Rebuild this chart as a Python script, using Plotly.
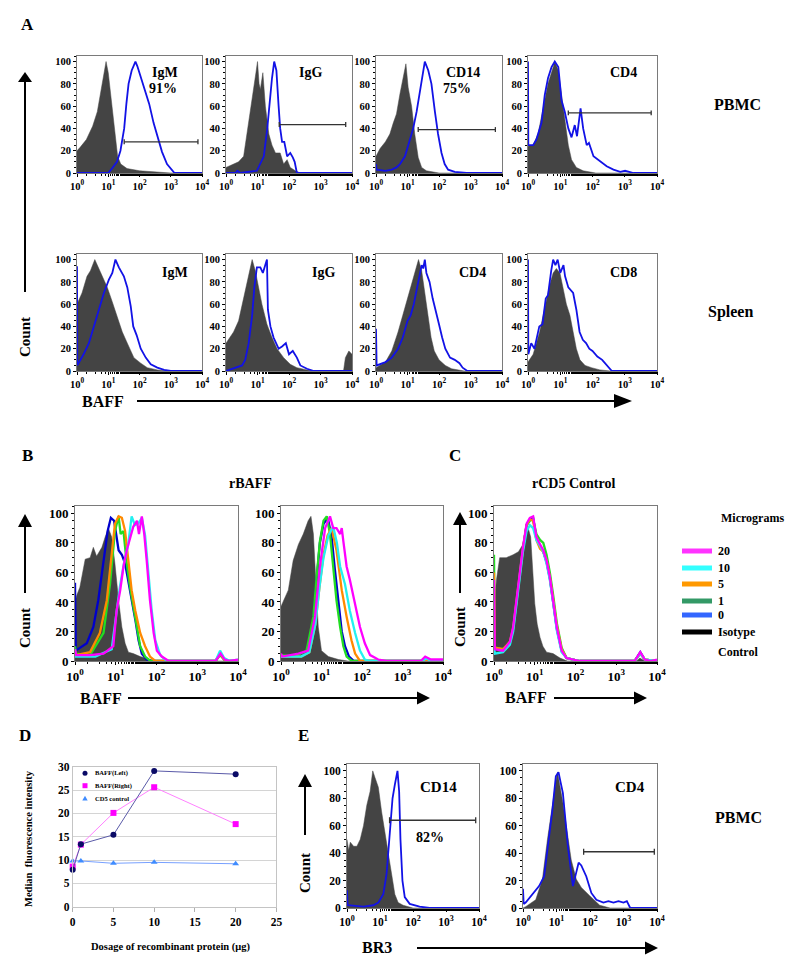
import plotly.graph_objects as go

W, H = 800, 966
SERIF = "Liberation Serif"

# ---------------- data ----------------
DECADE_TICKS = [1, 10, 100, 1000, 10000]
DECADE_TICK_TEXT = ["10<sup>0</sup>", "10<sup>1</sup>", "10<sup>2</sup>", "10<sup>3</sup>", "10<sup>4</sup>"]
COUNT_TICKS = [0, 20, 40, 60, 80, 100]

# Histograms: [log10(fluorescence), % of max]
A_PBMC_IGM_ISO = [(0,20),(0.1,23),(0.3,30),(0.5,42),(0.65,55),(0.75,70),(0.85,88),(0.93,100),(1.0,90),(1.1,65),(1.2,38),(1.3,15),(1.4,8),(1.6,4),(2.0,2),(2.5,1),(3,0),(4,0)]
A_PBMC_IGM_BAFF = [(0,0),(1.0,0),(1.12,4),(1.28,10),(1.39,20),(1.45,30),(1.51,40),(1.58,62),(1.65,80),(1.75,92),(1.82,97),(1.87,100),(1.93,96),(2.0,90),(2.08,82),(2.2,72),(2.31,62),(2.45,45),(2.56,35),(2.72,19),(2.88,8),(3.04,2),(3.12,0),(4,0)]
A_PBMC_IGG_ISO = [(0,5),(0.24,8),(0.4,10),(0.56,15),(0.67,35),(0.77,55),(0.88,75),(0.95,90),(1.0,100),(1.05,80),(1.09,75),(1.17,90),(1.25,60),(1.36,35),(1.46,25),(1.57,18),(1.72,18),(1.83,8),(1.94,12),(2.04,5),(2.2,2),(2.36,0),(4,0)]
A_PBMC_IGG_BAFF = [(0,0),(0.3,0),(0.36,2),(0.45,0),(0.98,2),(1.2,15),(1.31,40),(1.39,65),(1.46,85),(1.53,100),(1.6,92),(1.67,60),(1.72,40),(1.78,28),(1.85,28),(1.94,15),(2.04,18),(2.12,14),(2.18,10),(2.25,0),(4,0)]
A_PBMC_CD14_ISO = [(0,15),(0.13,22),(0.3,28),(0.44,35),(0.55,45),(0.65,53),(0.76,71),(0.87,86),(0.95,98),(1.02,77),(1.13,60),(1.23,35),(1.34,14),(1.45,5),(1.6,2),(2.0,0),(4,0)]
A_PBMC_CD14_BAFF = [(0,8),(0.02,3),(0.3,2),(0.5,3),(0.65,5),(0.76,8),(0.92,15),(1.08,30),(1.18,40),(1.29,55),(1.37,70),(1.45,85),(1.55,100),(1.66,92),(1.76,80),(1.87,55),(1.97,35),(2.08,18),(2.18,8),(2.29,3),(2.5,1),(2.87,0),(4,0)]
A_PBMC_CD4_ISO = [(0,24),(0.16,25),(0.31,35),(0.47,60),(0.62,80),(0.78,95),(0.83,100),(0.94,92),(1.04,70),(1.14,45),(1.25,25),(1.35,12),(1.5,5),(1.71,2),(2.1,0),(4,0)]
A_PBMC_CD4_BAFF = [(0,100),(0.01,25),(0.16,25),(0.26,30),(0.42,45),(0.52,70),(0.62,85),(0.73,95),(0.83,100),(0.94,95),(1.04,65),(1.14,55),(1.25,40),(1.35,32),(1.45,43),(1.52,33),(1.63,58),(1.71,40),(1.82,25),(1.89,27),(2.03,15),(2.24,10),(2.44,6),(2.65,3),(2.86,1),(3.01,2),(3.27,0),(4,0)]
A_SPL_IGM_ISO = [(0,60),(0.16,70),(0.32,85),(0.43,90),(0.57,100),(0.7,92),(0.8,85),(0.97,75),(1.13,62),(1.29,48),(1.45,35),(1.61,25),(1.82,12),(2.04,7),(2.25,3),(2.57,1),(2.9,0),(4,0)]
A_SPL_IGM_BAFF = [(0,94),(0.01,5),(0.21,15),(0.38,25),(0.54,40),(0.7,55),(0.86,70),(1.02,82),(1.13,88),(1.23,100),(1.34,93),(1.5,85),(1.61,75),(1.72,58),(1.8,40),(1.91,32),(2.04,20),(2.2,12),(2.36,6),(2.57,3),(2.79,1),(3.0,0),(4,0)]
A_SPL_IGG_ISO = [(0,25),(0.24,35),(0.4,45),(0.56,65),(0.72,85),(0.83,100),(0.93,90),(1.04,75),(1.14,60),(1.3,42),(1.46,30),(1.62,20),(1.83,12),(2.04,6),(2.25,3),(2.57,1),(2.89,0),(3.73,0),(3.79,12),(3.9,18),(4.0,15)]
A_SPL_IGG_BAFF = [(0,0),(0.35,3),(0.51,5),(0.61,10),(0.72,25),(0.83,50),(0.9,75),(0.98,93),(1.09,93),(1.17,88),(1.25,96),(1.3,100),(1.33,55),(1.41,40),(1.51,30),(1.67,20),(1.78,22),(1.9,25),(2.0,15),(2.12,18),(2.25,12),(2.36,5),(2.57,2),(2.79,0),(4,0)]
A_SPL_CD4_ISO = [(0,3),(0.3,8),(0.5,18),(0.7,35),(0.85,50),(1.0,65),(1.1,75),(1.2,85),(1.3,95),(1.35,100),(1.45,90),(1.55,72),(1.65,50),(1.75,30),(1.85,18),(2.0,10),(2.2,5),(2.4,2),(2.6,1),(2.8,0),(4,0)]
A_SPL_CD4_BAFF = [(0,38),(0.02,5),(0.3,8),(0.5,12),(0.7,20),(0.85,30),(1.0,45),(1.1,50),(1.2,60),(1.3,75),(1.4,88),(1.45,95),(1.5,92),(1.55,100),(1.6,88),(1.7,80),(1.8,65),(1.9,52),(2.0,42),(2.1,30),(2.2,20),(2.35,12),(2.5,10),(2.65,7),(2.75,3),(2.9,0),(4,0)]
A_SPL_CD8_ISO = [(0,8),(0.05,10),(0.16,15),(0.26,25),(0.36,35),(0.47,50),(0.57,65),(0.68,78),(0.78,88),(0.88,92),(0.99,88),(1.09,75),(1.19,60),(1.3,50),(1.4,35),(1.5,20),(1.61,10),(1.77,5),(1.97,3),(2.23,1),(2.55,0),(4,0)]
A_SPL_CD8_BAFF = [(0,100),(0.01,15),(0.1,25),(0.2,20),(0.35,40),(0.45,42),(0.55,65),(0.62,68),(0.72,90),(0.78,100),(0.85,95),(0.92,100),(1.0,88),(1.1,95),(1.15,85),(1.25,75),(1.4,70),(1.5,55),(1.6,35),(1.7,28),(1.8,25),(1.9,20),(2.0,18),(2.15,13),(2.3,10),(2.45,5),(2.6,0),(4,0)]

B_LEFT_ISO = [(0,40),(0.05,45),(0.12,50),(0.25,69),(0.37,70),(0.45,77),(0.53,71),(0.66,77),(0.74,84),(0.82,90),(0.9,84),(0.98,66),(1.07,41),(1.15,23),(1.23,12),(1.31,6),(1.43,5),(1.6,3),(1.84,1),(2.0,0),(4,0)]
B_LEFT_0 = [(0,53),(0.02,7),(0.29,12),(0.45,23),(0.57,41),(0.7,66),(0.8,88),(0.88,97),(0.96,95),(1.07,75),(1.15,72),(1.23,66),(1.31,54),(1.39,43),(1.48,28),(1.56,14),(1.64,5),(1.76,1),(1.9,0),(3.45,0),(3.56,5),(3.66,1),(3.8,0),(4,0)]
B_LEFT_1 = [(0,10),(0.02,5),(0.37,4),(0.7,19),(0.86,52),(0.98,88),(1.07,98),(1.12,86),(1.19,88),(1.27,66),(1.35,50),(1.43,37),(1.52,21),(1.6,10),(1.72,3),(1.85,0),(3.45,0),(3.56,4),(3.66,1),(3.8,0),(4,0)]
B_LEFT_5 = [(0,5),(0.02,4),(0.37,6),(0.61,19),(0.78,41),(0.9,75),(0.98,93),(1.07,98),(1.15,97),(1.23,88),(1.31,66),(1.39,48),(1.48,34),(1.6,19),(1.72,10),(1.84,3),(1.97,0),(3.45,0),(3.56,5),(3.66,1),(3.8,0),(4,0)]
B_LEFT_10 = [(0,3),(0.5,3),(0.9,8),(1.0,30),(1.1,50),(1.2,66),(1.3,78),(1.39,98),(1.47,92),(1.55,93),(1.64,97),(1.72,85),(1.8,60),(1.88,35),(1.97,14),(2.09,4),(2.25,0),(3.45,0),(3.56,7),(3.66,2),(3.8,0),(4,1)]
B_LEFT_20 = [(0,8),(0.03,4),(0.37,4),(0.7,5),(0.94,10),(1.02,34),(1.11,48),(1.19,64),(1.27,75),(1.35,84),(1.43,91),(1.52,95),(1.57,86),(1.64,98),(1.7,86),(1.76,68),(1.84,41),(1.93,19),(2.01,7),(2.13,3),(2.3,0),(3.45,0),(3.57,5),(3.67,1),(3.8,0),(4,1)]
B_RIGHT_ISO = [(0,37),(0.18,48),(0.3,68),(0.43,79),(0.55,86),(0.67,95),(0.74,98),(0.8,86),(0.86,54),(0.92,23),(1.0,7),(1.17,3),(1.42,1),(1.65,0),(4,0)]
B_RIGHT_0 = [(0,3),(0.35,3),(0.63,6),(0.8,28),(0.88,55),(0.96,80),(1.05,93),(1.13,96),(1.17,95),(1.25,84),(1.33,62),(1.41,40),(1.5,20),(1.58,10),(1.68,3),(1.8,0),(4,0)]
B_RIGHT_1 = [(0,4),(0.35,3),(0.63,7),(0.8,30),(0.88,57),(0.96,81),(1.05,95),(1.13,98),(1.21,86),(1.29,64),(1.37,41),(1.46,23),(1.54,10),(1.62,3),(1.75,0),(4,0)]
B_RIGHT_5 = [(0,3),(0.5,3),(0.7,6),(0.85,25),(0.95,50),(1.05,72),(1.15,85),(1.25,90),(1.37,75),(1.5,48),(1.62,30),(1.74,14),(1.83,5),(1.95,0),(4,0)]
B_RIGHT_10 = [(0,3),(0.5,3),(0.7,6),(0.85,25),(0.95,50),(1.05,70),(1.17,85),(1.29,91),(1.38,80),(1.46,64),(1.58,52),(1.7,34),(1.83,19),(1.95,7),(2.07,1),(2.2,0),(3.5,0),(3.58,2),(3.7,0),(4,0)]
B_RIGHT_20 = [(0,5),(0.03,3),(0.43,5),(0.67,7),(0.84,30),(0.96,64),(1.09,90),(1.21,98),(1.29,90),(1.37,90),(1.46,86),(1.5,90),(1.54,81),(1.62,64),(1.7,55),(1.79,44),(1.87,34),(1.95,23),(2.07,12),(2.2,4),(2.4,1),(2.6,0),(3.45,0),(3.56,3),(3.7,1),(4,1)]

C_ISO = [(0,35),(0.06,55),(0.14,70),(0.3,70),(0.47,72),(0.6,74),(0.71,79),(0.78,85),(0.84,90),(0.9,84),(0.95,65),(1.0,39),(1.06,25),(1.13,16),(1.2,10),(1.29,6),(1.45,5),(1.62,2),(1.8,0),(3.5,0),(3.58,2),(3.7,0),(4,0)]
C_0 = [(0,8),(0.02,8),(0.22,7),(0.39,12),(0.47,22),(0.55,40),(0.63,58),(0.71,76),(0.8,92),(0.88,96),(0.96,97),(1.04,83),(1.13,78),(1.21,74),(1.29,67),(1.37,56),(1.45,40),(1.54,22),(1.66,7),(1.78,2),(2.1,0),(3.45,0),(3.59,6),(3.7,1),(4,0)]
C_1 = [(0,72),(0.02,9),(0.22,8),(0.39,12),(0.47,22),(0.55,40),(0.63,58),(0.71,76),(0.8,92),(0.88,95),(0.96,96),(1.04,86),(1.13,82),(1.21,80),(1.29,72),(1.37,60),(1.45,45),(1.54,26),(1.66,9),(1.78,2),(2.1,0),(3.45,0),(3.59,5),(3.7,1),(4,0)]
C_5 = [(0,60),(0.02,9),(0.22,8),(0.39,13),(0.47,22),(0.55,40),(0.63,58),(0.71,76),(0.8,92),(0.88,96),(0.96,95),(1.04,82),(1.13,76),(1.21,74),(1.29,68),(1.37,57),(1.45,42),(1.54,24),(1.66,8),(1.78,2),(2.1,0),(3.45,0),(3.59,5),(3.7,1),(4,0)]
C_10 = [(0,10),(0.02,5),(0.22,6),(0.39,11),(0.47,20),(0.55,38),(0.63,56),(0.71,74),(0.8,88),(0.88,92),(0.96,90),(1.04,82),(1.13,78),(1.21,74),(1.29,66),(1.37,55),(1.45,40),(1.54,21),(1.66,6),(1.78,2),(2.1,0),(3.45,0),(3.59,5),(3.7,1),(4,0)]
C_20 = [(0,55),(0.02,8),(0.22,7),(0.39,13),(0.47,23),(0.55,41),(0.63,59),(0.71,77),(0.8,93),(0.88,97),(0.96,98),(1.04,84),(1.13,79),(1.21,75),(1.29,68),(1.37,57),(1.45,41),(1.54,23),(1.66,7),(1.78,2),(2.1,0),(3.45,0),(3.59,6),(3.7,1),(3.85,0),(4,1)]

E_CD14_ISO = [(0,50),(0.05,42),(0.1,48),(0.2,45),(0.3,45),(0.4,50),(0.5,60),(0.6,75),(0.7,85),(0.78,100),(0.85,95),(0.95,88),(1.05,70),(1.15,55),(1.25,40),(1.35,22),(1.45,10),(1.55,4),(1.7,2),(2.0,0),(4,0)]
E_CD14_BR3 = [(0,13),(0.02,2),(0.5,1),(0.8,2),(0.95,4),(1.1,10),(1.2,25),(1.3,55),(1.38,80),(1.45,90),(1.53,100),(1.58,85),(1.62,50),(1.68,20),(1.75,8),(1.9,3),(2.2,1),(2.5,0),(4,0)]
E_CD4_ISO = [(0,0),(0.08,1),(0.38,6),(0.58,21),(0.73,50),(0.88,77),(0.98,92),(1.03,99),(1.1,90),(1.19,77),(1.31,57),(1.44,35),(1.59,21),(1.74,15),(1.99,9),(2.15,5),(2.29,2),(2.6,0),(4,0)]
E_CD4_BR3 = [(0,14),(0.02,3),(0.08,4),(0.28,10),(0.48,16),(0.63,23),(0.78,50),(0.88,72),(0.98,96),(1.06,99),(1.12,92),(1.19,84),(1.34,45),(1.49,16),(1.59,26),(1.66,33),(1.74,31),(1.89,23),(2.04,11),(2.19,6),(2.4,4),(2.55,5),(2.7,4),(2.85,5),(3.0,4),(3.1,5),(3.2,0),(4,0)]

# Gates: (log10 start, log10 end, height)
A_PBMC_IGM_GATE = (1.51, 3.87, 28)
A_PBMC_IGG_GATE = (1.69, 3.8, 43.5)
A_PBMC_CD14_GATE = (1.34, 3.79, 39)
A_PBMC_CD4_GATE = (1.25, 3.82, 54)
E_CD14_GATE = (1.29, 3.9, 64)
E_CD4_GATE = (1.81, 3.92, 41)

DOSE = [0, 1, 5, 10, 20]
MFI_BAFF_LEFT = [7.9, 13.4, 15.4, 29.1, 28.4]
MFI_BAFF_RIGHT = [8.6, 13.3, 20.1, 25.6, 17.7]
MFI_CD5 = [9.8, 9.8, 9.3, 9.5, 9.2]
D_X_TICKS = [0, 5, 10, 15, 20, 25]
D_Y_TICKS = [0, 5, 10, 15, 20, 25, 30]

MICROGRAM_LABELS = ["20", "10", "5", "1", "0"]

# ---------------- styling / layout ----------------
GRAY_FILL = "#444444"
STAIN_BLUE = "#1212e6"
C_MAG, C_CYAN, C_ORANGE, C_GREEN, C_BLUE = "#ff00ff", "#22f0f0", "#ff8a00", "#22dd22", "#0000cc"
LEG_COLORS = ["#ff33ff", "#33ffff", "#ff9900", "#339966", "#3366ff", "#000000"]

def fx(p): return p / W
def fy(p): return 1 - p / H

def font(size, color="black"):
    return dict(family=SERIF, size=size, color=color, weight="bold")

fig = go.Figure()
layout = {}
shapes = []
annotations = []

def ax_names(i):
    return ("x" if i == 1 else f"x{i}", "y" if i == 1 else f"y{i}",
            "xaxis" if i == 1 else f"xaxis{i}", "yaxis" if i == 1 else f"yaxis{i}")

def add_hist_axes(i, xpx, ypx, fs):
    xr, yr, xk, yk = ax_names(i)
    layout[xk] = dict(domain=[fx(xpx[0]), fx(xpx[1])], type="log", range=[0, 4], anchor=yr,
                      tickmode="array", tickvals=DECADE_TICKS, ticktext=DECADE_TICK_TEXT,
                      ticks="outside", ticklen=3, tickcolor="black", showline=True,
                      linecolor="#7a7a7a", linewidth=1, mirror=True, showgrid=False, zeroline=False,
                      tickfont=font(fs), automargin=False,
                      minor=dict(ticks="outside", ticklen=2, tickcolor="black", showgrid=False))
    layout[yk] = dict(domain=[fy(ypx[1]), fy(ypx[0])], range=[0, 105], anchor=xr,
                      tickmode="array", tickvals=COUNT_TICKS, ticks="outside", ticklen=3,
                      tickcolor="black", showline=True, linecolor="#7a7a7a", linewidth=1,
                      mirror=True, showgrid=False, zeroline=False, tickfont=font(fs), automargin=False,
                      minor=dict(ticks="outside", ticklen=2, tickcolor="black", dtick=5, showgrid=False))
    return xr, yr

def add_fill(d, xr, yr):
    fig.add_trace(go.Scatter(x=[10 ** a for a, _ in d], y=[b for _, b in d], mode="lines",
                             fill="tozeroy", fillcolor=GRAY_FILL, line=dict(width=0.5, color=GRAY_FILL),
                             xaxis=xr, yaxis=yr, hoverinfo="skip", showlegend=False))

def add_line(d, xr, yr, color, w):
    fig.add_trace(go.Scatter(x=[10 ** a for a, _ in d], y=[b for _, b in d], mode="lines",
                             line=dict(width=w, color=color), xaxis=xr, yaxis=yr,
                             hoverinfo="skip", showlegend=False))

def add_gate(g, xr, yr, cap=2.2):
    x0, x1, h = g
    st = dict(color="#333333", width=1.3)
    shapes.append(dict(type="line", xref=xr, yref=yr, x0=10 ** x0, x1=10 ** x1, y0=h, y1=h, line=st))
    for xx in (x0, x1):
        shapes.append(dict(type="line", xref=xr, yref=yr, x0=10 ** xx, x1=10 ** xx,
                           y0=h - cap, y1=h + cap, line=st))

def txt(x, y, s, size, **kw):
    d = dict(x=fx(x), y=fy(y), xref="paper", yref="paper", text=s, showarrow=False,
             font=font(size), xanchor="center", yanchor="middle")
    d.update(kw)
    annotations.append(d)

def pline(x0, y0, x1, y1, w=2, color="black"):
    shapes.append(dict(type="line", xref="paper", yref="paper", x0=fx(x0), y0=fy(y0),
                       x1=fx(x1), y1=fy(y1), line=dict(color=color, width=w)))

def arrow_right(x0, x1, y, base, half):
    pline(x0, y, base, y)
    shapes.append(dict(type="path", xref="paper", yref="paper", fillcolor="black", line=dict(width=0),
                       path=f"M {fx(base)},{fy(y-half)} L {fx(x1)},{fy(y)} L {fx(base)},{fy(y+half)} Z"))

def arrow_up(x, y0, tip, base, half):
    pline(x, y0, x, base)
    shapes.append(dict(type="path", xref="paper", yref="paper", fillcolor="black", line=dict(width=0),
                       path=f"M {fx(x-half)},{fy(base)} L {fx(x)},{fy(tip)} L {fx(x+half)},{fy(base)} Z"))

# ----- Panel A -----
A_COLS = [(77, 202), (226, 352), (376, 502), (528, 657)]
A_TOP, A_BOT = (56, 173), (254, 371)
a_sets = [
    (A_PBMC_IGM_ISO, A_PBMC_IGM_BAFF, A_PBMC_IGM_GATE, A_COLS[0], A_TOP),
    (A_PBMC_IGG_ISO, A_PBMC_IGG_BAFF, A_PBMC_IGG_GATE, A_COLS[1], A_TOP),
    (A_PBMC_CD14_ISO, A_PBMC_CD14_BAFF, A_PBMC_CD14_GATE, A_COLS[2], A_TOP),
    (A_PBMC_CD4_ISO, A_PBMC_CD4_BAFF, A_PBMC_CD4_GATE, A_COLS[3], A_TOP),
    (A_SPL_IGM_ISO, A_SPL_IGM_BAFF, None, A_COLS[0], A_BOT),
    (A_SPL_IGG_ISO, A_SPL_IGG_BAFF, None, A_COLS[1], A_BOT),
    (A_SPL_CD4_ISO, A_SPL_CD4_BAFF, None, A_COLS[2], A_BOT),
    (A_SPL_CD8_ISO, A_SPL_CD8_BAFF, None, A_COLS[3], A_BOT),
]
idx = 0
for iso, stain, gate, xpx, ypx in a_sets:
    idx += 1
    xr, yr = add_hist_axes(idx, xpx, ypx, 10.5)
    add_fill(iso, xr, yr)
    add_line(stain, xr, yr, STAIN_BLUE, 1.8)
    if gate:
        add_gate(gate, xr, yr)

for (x, y, s) in [(165, 72, "IgM"), (163, 88, "91%"), (310, 72, "IgG"), (463, 72, "CD14"),
                  (457, 88, "75%"), (623, 72, "CD4"),
                  (175, 272, "IgM"), (323, 272, "IgG"), (472, 272, "CD4"), (623, 272, "CD8")]:
    txt(x, y, s, 14)

txt(27, 25, "A", 17)
txt(737, 104, "PBMC", 16)
txt(730, 312, "Spleen", 16)
txt(25, 337, "Count", 15, textangle=-90)
txt(103, 401, "BAFF", 16)
arrow_up(25, 292, 72, 82, 7)
arrow_right(137, 632, 401, 614, 7)

# ----- Panel B & C -----
B_Y = (506, 661)
b_sets = [
    (B_LEFT_ISO, [B_LEFT_0, B_LEFT_1, B_LEFT_5, B_LEFT_10, B_LEFT_20], (75, 238)),
    (B_RIGHT_ISO, [B_RIGHT_0, B_RIGHT_1, B_RIGHT_5, B_RIGHT_10, B_RIGHT_20], (281, 443)),
    (C_ISO, [C_0, C_1, C_5, C_10, C_20], (494, 657)),
]
line_cols = [C_BLUE, C_GREEN, C_ORANGE, C_CYAN, C_MAG]
for iso, series, xpx in b_sets:
    idx += 1
    xr, yr = add_hist_axes(idx, xpx, B_Y, 13)
    add_fill(iso, xr, yr)
    for d, c in zip(series, line_cols):
        add_line(d, xr, yr, c, 2.3)

txt(27, 455, "B", 17)
txt(455, 455, "C", 17)
txt(250, 483, "rBAFF", 14)
txt(573, 483, "rCD5 Control", 14)
txt(25, 628, "Count", 15, textangle=-90)
txt(460, 627, "Count", 15, textangle=-90)
arrow_up(25, 593, 514, 527, 7)
arrow_up(460, 593, 512, 525, 7)
txt(101, 698, "BAFF", 16)
arrow_right(128, 430, 698, 417, 6.5)
txt(526, 697, "BAFF", 16)
arrow_right(554, 647, 698, 634, 6.5)

txt(752, 518, "Micrograms", 12)
leg_y = [551, 568, 584, 601, 615, 632]
for lab, c, y in zip(MICROGRAM_LABELS + ["Isotype"], LEG_COLORS, leg_y):
    pline(682, y, 712, y, w=5, color=c)
    txt(716, y, lab, 12, xanchor="left")
txt(716, 652, "Control", 12, xanchor="left")

# ----- Panel E -----
E_Y = (764, 908)
e_sets = [
    (E_CD14_ISO, E_CD14_BR3, E_CD14_GATE, (347, 479)),
    (E_CD4_ISO, E_CD4_BR3, E_CD4_GATE, (523, 657)),
]
for iso, stain, gate, xpx in e_sets:
    idx += 1
    xr, yr = add_hist_axes(idx, xpx, E_Y, 11.5)
    add_fill(iso, xr, yr)
    add_line(stain, xr, yr, STAIN_BLUE, 1.8)
    add_gate(gate, xr, yr)

txt(303, 735, "E", 17)
txt(438, 787, "CD14", 15)
txt(430, 837, "82%", 14)
txt(630, 787, "CD4", 15)
txt(738, 817, "PBMC", 16)
txt(305, 873, "Count", 15, textangle=-90)
arrow_up(305, 835, 774, 787, 7)
txt(377, 947, "BR3", 16)
arrow_right(417, 658, 948, 645, 6.5)

# ----- Panel D -----
idx += 1
xr, yr, xk, yk = ax_names(idx)
layout[xk] = dict(domain=[fx(72.7), fx(276.4)], range=[0, 25], anchor=yr, tickmode="array",
                  tickvals=D_X_TICKS, ticks="outside", ticklen=4, tickcolor="#b0b0b0",
                  showline=True, linecolor="#c4c4c4", linewidth=1, mirror=True, showgrid=False,
                  zeroline=False, tickfont=font(11.5), automargin=False)
layout[yk] = dict(domain=[fy(906.7), fy(766.7)], range=[0, 30], anchor=xr, tickmode="array",
                  tickvals=D_Y_TICKS, ticks="", showline=True, linecolor="#c4c4c4", linewidth=1,
                  mirror=True, showgrid=True, gridcolor="#d4d4d4", zeroline=False,
                  tickfont=font(11.5), automargin=False)
fig.add_trace(go.Scatter(x=DOSE, y=MFI_CD5, mode="lines+markers", xaxis=xr, yaxis=yr,
                         line=dict(color="#77a0ff", width=1),
                         marker=dict(symbol="triangle-up", size=6, color="#3f8cff"),
                         cliponaxis=False, showlegend=False))
fig.add_trace(go.Scatter(x=DOSE, y=MFI_BAFF_RIGHT, mode="lines+markers", xaxis=xr, yaxis=yr,
                         line=dict(color="#ff80ff", width=1),
                         marker=dict(symbol="square", size=6, color="#ff00ff"),
                         cliponaxis=False, showlegend=False))
fig.add_trace(go.Scatter(x=DOSE, y=MFI_BAFF_LEFT, mode="lines+markers", xaxis=xr, yaxis=yr,
                         line=dict(color="#5a5aa8", width=1),
                         marker=dict(symbol="circle", size=6, color="#0a0a66"),
                         cliponaxis=False, showlegend=False))

txt(25, 735, "D", 17)
txt(28, 839, "Median  fluorescence intensity", 10.5, textangle=-90)
txt(170, 947, "Dosage of recombinant protein (μg)", 10.5)
shapes.append(dict(type="circle", xref="paper", yref="paper", x0=fx(82.5), x1=fx(87.5),
                   y0=fy(775.8), y1=fy(770.8), fillcolor="#0a0a66", line=dict(width=0)))
shapes.append(dict(type="rect", xref="paper", yref="paper", x0=fx(82.5), x1=fx(87.5),
                   y0=fy(788.2), y1=fy(783.2), fillcolor="#ff00ff", line=dict(width=0)))
shapes.append(dict(type="path", xref="paper", yref="paper", fillcolor="#3f8cff", line=dict(width=0),
                   path=f"M {fx(82.3)},{fy(800.5)} L {fx(85)},{fy(795.8)} L {fx(87.7)},{fy(800.5)} Z"))
txt(93, 773.3, "BAFF(Left)", 6.5, xanchor="left")
txt(93, 785.7, "BAFF(Right)", 6.5, xanchor="left")
txt(93, 798.3, "CD5 control", 6.5, xanchor="left")

fig.update_layout(width=W, height=H, autosize=False,
                  margin=dict(l=0, r=0, t=0, b=0, pad=0, autoexpand=False),
                  paper_bgcolor="white", plot_bgcolor="white", showlegend=False,
                  shapes=shapes, annotations=annotations, **layout)
fig.write_html("out.html", config=dict(responsive=False, displayModeBar=False),
               post_script="document.body.style.margin='0';document.body.style.overflow='hidden';")
